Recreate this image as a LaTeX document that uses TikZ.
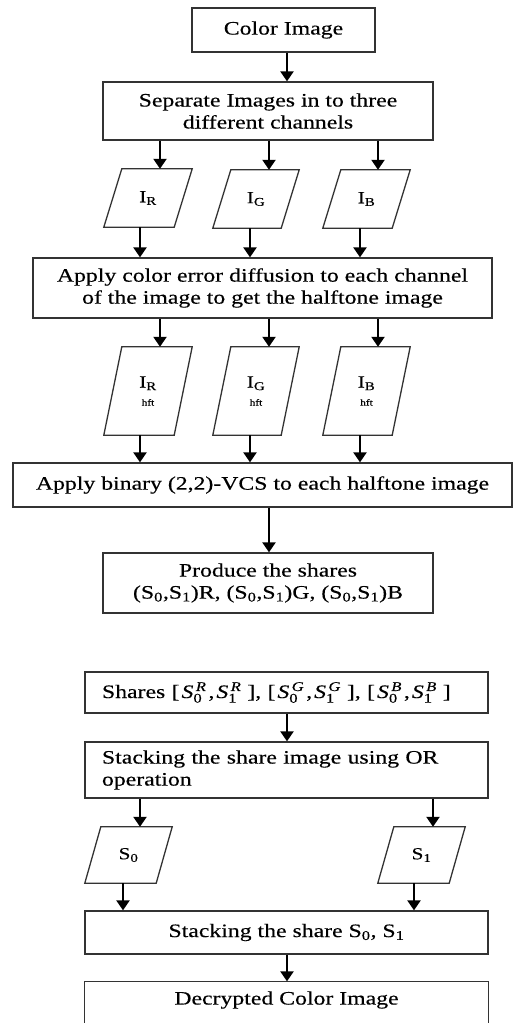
\documentclass[tikz,border=0pt]{standalone}
\usepackage{amsmath}
\usepackage{fontspec}
\setmainfont[FakeStretch=1.25,FakeBold=0.35]{Liberation Serif}
\usetikzlibrary{arrows.meta,calc}

\tikzset{
  boxline/.style={draw=black!80, line width=1.3pt},
  box/.style={boxline, inner sep=0pt, align=center, text=black,
    font=\fontsize{19}{22}\selectfont},
  leftbox/.style={box, align=left, inner xsep=17pt, text width=369pt},
  data/.style={inner sep=0pt, align=center, text=black,
    font=\fontsize{17}{20}\selectfont},
  arr/.style={-{Triangle[length=10pt,width=13pt]}, line width=2.2pt, draw=black},
}
% slanted data symbol around a named node: #1 node, #2 horizontal offset
\newcommand\slantbox[2]{%
  \draw[boxline] ($(#1.north west)+(#2,0)$) -- (#1.north east)
    -- ($(#1.south east)-(#2,0)$) -- (#1.south west) -- cycle;}
\newcommand\hft{\\[-2pt]{\fontsize{9}{10}\selectfont hft}}
\newcommand\Sp[2]{$\textit{S}^{\,\textit{#1}}_{\text{#2}}$}
\newcommand\Pair[1]{[\hspace{2pt}\Sp{#1}{0}\hspace{2pt},\hspace{2pt}\Sp{#1}{1}\hspace{6pt}]}

\begin{document}
\begin{tikzpicture}[x=1pt,y=-1pt]
\useasboundingbox (0,0) rectangle (514,1023);

% --- encryption ---
\node[box, minimum width=183pt, minimum height=44pt] (color) at (283.5,30) {Color Image};
\node[box, minimum width=330pt, minimum height=58pt] (sep) at (268,111)
  {Separate Images in to three\\different channels};

\node[data, minimum width=88pt, minimum height=58pt] (ir) at (148,198) {I\textsubscript{R}};
\node[data, minimum width=86pt, minimum height=58pt] (ig) at (256,199) {I\textsubscript{G}};
\node[data, minimum width=87pt, minimum height=58pt] (ib) at (366.5,199) {I\textsubscript{B}};
\slantbox{ir}{18}\slantbox{ig}{18}\slantbox{ib}{18}

\node[box, minimum width=459pt, minimum height=60pt] (apply) at (262.5,288)
  {Apply color error diffusion to each channel\\of the image to get the halftone image};

\node[data, minimum width=88pt, minimum height=88pt] (irh) at (148,391) {I\textsubscript{R}\hft};
\node[data, minimum width=86pt, minimum height=88pt] (igh) at (256,391) {I\textsubscript{G}\hft};
\node[data, minimum width=87pt, minimum height=88pt] (ibh) at (366.5,391) {I\textsubscript{B}\hft};
\slantbox{irh}{18}\slantbox{igh}{18}\slantbox{ibh}{18}

\node[box, minimum width=499pt, minimum height=44pt] (bin) at (262.5,485)
  {Apply binary (2,2)-VCS to each halftone image};
\node[box, minimum width=330pt, minimum height=60pt] (prod) at (268,583)
  {Produce the shares\\(S\textsubscript{0},S\textsubscript{1})R, (S\textsubscript{0},S\textsubscript{1})G, (S\textsubscript{0},S\textsubscript{1})B};

\draw[arr] (color.south -| 287,0) -- (sep.north -| 287,0);
\foreach \n/\din/\dout in {ir/12/-8, ig/13/-6, ib/11.5/-6.5} {
  \draw[arr] ([xshift=\din pt]\n.north |- sep.south) -- ([xshift=\din pt]\n.north);
  \draw[arr] ([xshift=\dout pt]\n.south) -- ([xshift=\dout pt]\n.south |- apply.north);
}
\foreach \n/\din/\dout in {irh/12/-8, igh/13/-6, ibh/11.5/-6.5} {
  \draw[arr] ([xshift=\din pt]\n.north |- apply.south) -- ([xshift=\din pt]\n.north);
  \draw[arr] ([xshift=\dout pt]\n.south) -- ([xshift=\dout pt]\n.south |- bin.north);
}
\draw[arr] ([xshift=1pt]prod.north |- bin.south) -- ([xshift=1pt]prod.north);

% --- decryption ---
\node[leftbox, minimum width=403pt, minimum height=41pt] (shares) at (286.5,692.5)
  {Shares \Pair{R}, \Pair{G}, \Pair{B}};
\node[leftbox, minimum width=403pt, minimum height=56pt] (stack) at (286.5,770)
  {Stacking the share image using OR\\operation};

\node[data, minimum width=87pt, minimum height=56pt] (s0) at (128.5,855) {S\textsubscript{0}};
\node[data, minimum width=87pt, minimum height=56pt] (s1) at (421.5,855) {S\textsubscript{1}};
\slantbox{s0}{16}\slantbox{s1}{16}

\node[box, minimum width=403pt, minimum height=43pt] (stack2) at (286.5,932.5)
  {Stacking the share S\textsubscript{0}, S\textsubscript{1}};
% last box runs past the lower edge of the page
\node[box, draw=none, minimum width=403pt, minimum height=36pt] (dec) at (286.5,1000)
  {Decrypted Color Image};
\draw[boxline] ([yshift=-6pt]dec.south west) -- (dec.north west)
  -- (dec.north east) -- ([yshift=-6pt]dec.south east);

\draw[arr] ([xshift=0.5pt]shares.south) -- ([xshift=0.5pt]stack.north);
\draw[arr] ([xshift=11.5pt]s0.north |- stack.south) -- ([xshift=11.5pt]s0.north);
\draw[arr] ([xshift=11.5pt]s1.north |- stack.south) -- ([xshift=11.5pt]s1.north);
\draw[arr] ([xshift=-5.5pt]s0.south) -- ([xshift=-5.5pt]s0.south |- stack2.north);
\draw[arr] ([xshift=-7.5pt]s1.south) -- ([xshift=-7.5pt]s1.south |- stack2.north);
\draw[arr] ([xshift=0.5pt]stack2.south) -- ([xshift=0.5pt]dec.north);
\end{tikzpicture}
\end{document}
